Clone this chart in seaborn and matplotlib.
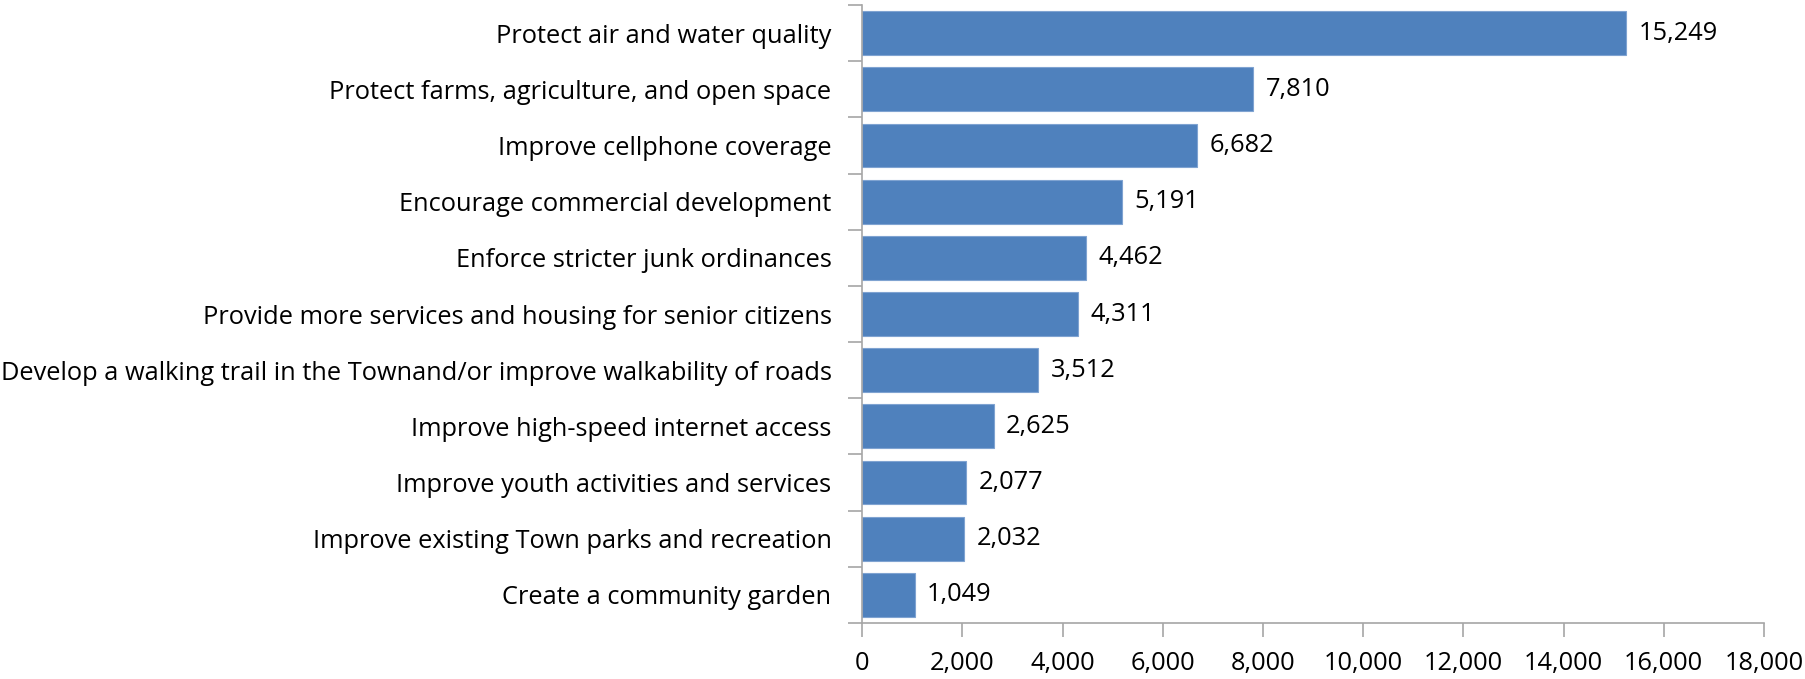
import matplotlib
matplotlib.use("Agg")
import matplotlib.pyplot as plt
import matplotlib.ticker as mticker
import numpy as np
import pandas as pd
import seaborn as sns

categories = [
    "Protect air and water quality",
    "Protect farms, agriculture, and open space",
    "Improve cellphone coverage",
    "Encourage commercial development",
    "Enforce stricter junk ordinances",
    "Provide more services and housing for senior citizens",
    "Develop a walking trail in the Townand/or improve walkability of roads",
    "Improve high-speed internet access",
    "Improve youth activities and services",
    "Improve existing Town parks and recreation",
    "Create a community garden",
]
values = [15249, 7810, 6682, 5191, 4462, 4311, 3512, 2625, 2077, 2032, 1049]
x_ticks = [0, 2000, 4000, 6000, 8000, 10000, 12000, 14000, 16000, 18000]

sns.set_theme(style="white")
plt.rcParams["font.family"] = ["Open Sans", "DejaVu Sans"]

df = pd.DataFrame({"item": categories, "count": values})

fig = plt.figure(figsize=(18.05, 6.79), dpi=100)
ax = fig.add_axes([0.4776, 0.0825, 0.4997, 0.9101])

sns.barplot(data=df, y="item", x="count", orient="h", color="#4F81BD",
            saturation=1, width=0.78, edgecolor="#7FA3D1", linewidth=0.8, ax=ax)

axis_grey = "#A6A6A6"
fs = 18.3

ax.set_xlim(0, 18000)
ax.set_ylim(len(categories) - 0.5, -0.5)
ax.set_xticks(x_ticks)
ax.xaxis.set_major_formatter(mticker.FuncFormatter(lambda v, p: f"{int(v):,}"))
ax.tick_params(axis="x", length=10, width=1.2, color=axis_grey, labelsize=fs,
               labelcolor="black", pad=10, direction="out", bottom=True)

# category labels at bar centres, tick marks on category boundaries
ax.set_yticks(np.arange(len(categories) + 1) - 0.5)
ax.set_yticklabels([])
ax.set_yticks(np.arange(len(categories)), minor=True)
ax.set_yticklabels(categories, minor=True)
ax.tick_params(axis="y", which="major", length=10, width=1.2, color=axis_grey,
               direction="out", left=True)
ax.tick_params(axis="y", which="minor", length=0, labelsize=fs,
               labelcolor="black", pad=22)

for side in ["top", "right"]:
    ax.spines[side].set_visible(False)
for side in ["left", "bottom"]:
    ax.spines[side].set_color(axis_grey)
    ax.spines[side].set_linewidth(1.2)

ax.set_xlabel("")
ax.set_ylabel("")

for i, v in enumerate(values):
    ax.annotate(f"{v:,}", xy=(v, i), xytext=(9, 0), textcoords="offset points",
                va="center", ha="left", fontsize=fs, color="black")

fig.savefig("out.png", dpi=100)
